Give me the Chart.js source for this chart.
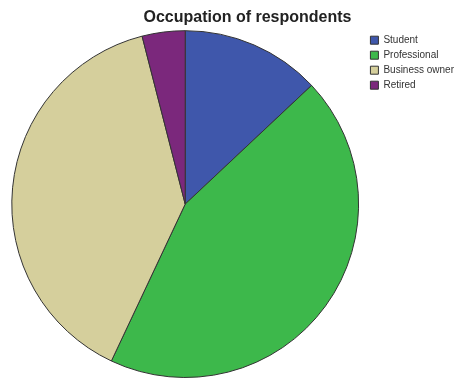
<!DOCTYPE html>
<html>
<head>
<meta charset="utf-8">
<script src="https://cdn.jsdelivr.net/npm/chart.js@4.4.0/dist/chart.umd.min.js"></script>
<style>
  html, body { margin: 0; padding: 0; background: #fff; }
  #wrap { width: 464px; height: 379px; }
</style>
</head>
<body>
<div id="wrap"><canvas id="chart" width="464" height="379"></canvas></div>
<script>
// occupation shares (percent)
const labels = ['Student', 'Professional', 'Business owner', 'Retired'];
const values = [13, 44, 39, 4];
const colors = ['#3f57ab', '#3db84b', '#d5cf9c', '#7b287c'];

const ctx = document.getElementById('chart');

// title in the original sits a bit right of the canvas centre
const nudgeTitle = {
  id: 'nudgeTitle',
  afterLayout(chart) {
    if (chart.titleBlock) chart.titleBlock.left += 26;
  },
};

new Chart(ctx, {
  type: 'pie',
  data: {
    labels: labels,
    datasets: [
      {
        data: values,
        backgroundColor: colors,
        borderColor: '#333333',
        borderWidth: 1,
      },
    ],
  },
  options: {
    responsive: false,
    animation: false,
    layout: { padding: { left: 5, right: 0, top: 0, bottom: 1 } },
    plugins: {
      title: {
        display: true,
        text: 'Occupation of respondents',
        color: '#222',
        font: { family: 'Arial, "Liberation Sans", sans-serif', size: 16, weight: 'bold' },
        padding: { top: 8, bottom: 3 },
      },
      legend: {
        position: 'right',
        align: 'start',
        fullSize: false,
        labels: {
          boxWidth: 8,
          boxHeight: 8,
          padding: 5,
          color: '#333',
          font: { family: 'Arial, "Liberation Sans", sans-serif', size: 10 },
        },
      },
      tooltip: { enabled: false },
    },
  },
  plugins: [nudgeTitle],
});
</script>
</body>
</html>
